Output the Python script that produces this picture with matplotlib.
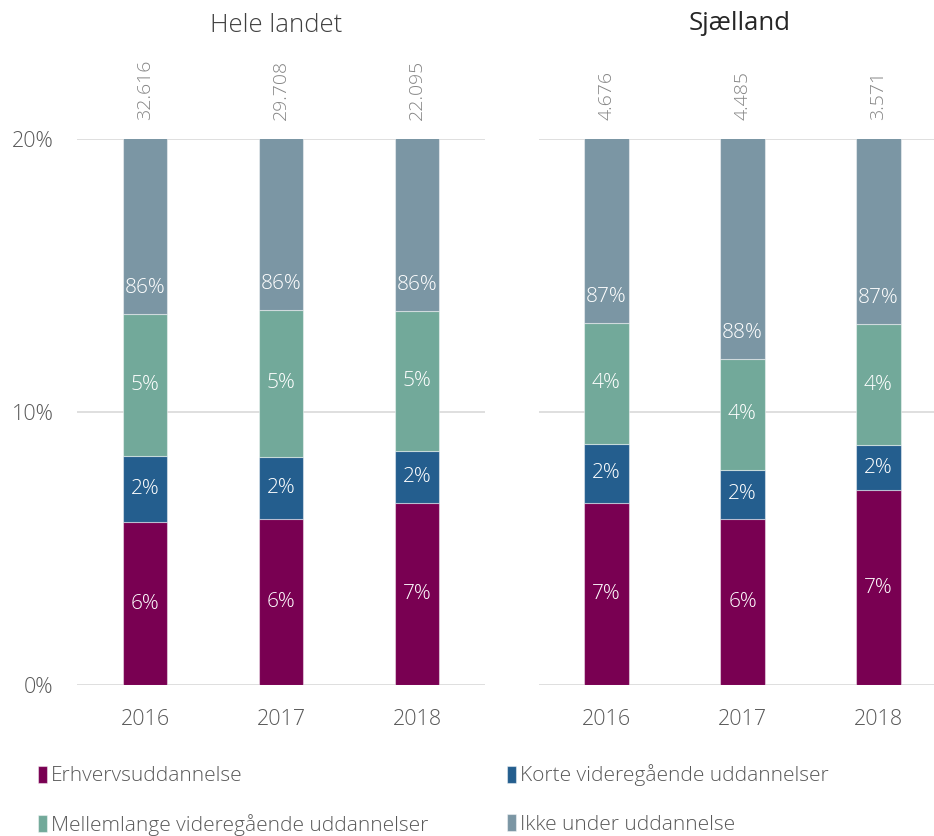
import matplotlib
matplotlib.use("Agg")
import matplotlib.pyplot as plt
import numpy as np

plt.rcParams['font.family'] = ['Open Sans', 'DejaVu Sans']
plt.rcParams['font.weight'] = 'light'

years = ["2016", "2017", "2018"]
series_names = ["Erhvervsuddannelse", "Korte videregående uddannelser",
                "Mellemlange videregående uddannelser", "Ikke under uddannelse"]
colors = ["#790052", "#245E8E", "#72A99A", "#7B96A4"]

# andele i procent, pr. region
hele_erhverv = [5.97, 6.08, 6.67]
hele_korte = [2.42, 2.27, 1.90]
hele_mellem = [5.20, 5.39, 5.13]
hele_ikke = [86.41, 86.26, 86.30]
hele_antal = ["32.616", "29.708", "22.095"]

sj_erhverv = [6.67, 6.08, 7.14]
sj_korte = [2.16, 1.80, 1.65]
sj_mellem = [4.43, 4.06, 4.43]
sj_ikke = [86.74, 88.06, 86.78]
sj_antal = ["4.676", "4.485", "3.571"]

W, H = 934, 836
fig = plt.figure(figsize=(W / 100, H / 100), dpi=100)

bottom = 1 - 685 / H
height = (685 - 139) / H
ax1 = fig.add_axes([77 / W, bottom, 408 / W, height])
ax2 = fig.add_axes([538.5 / W, bottom, (W - 538.5) / W, height])


def draw_panel(ax, parts, antal, xmax):
    x = np.arange(len(years))
    base = np.zeros(len(years))
    bars = []
    for i, (vals, col) in enumerate(zip(parts, colors)):
        vals = np.array(vals)
        b = ax.bar(x, vals, bottom=base, width=0.33, color=col,
                   edgecolor=(1, 1, 1, 0.45), linewidth=0.8, zorder=3,
                   label=series_names[i])
        bars.append(b)
        for xi, v, b0 in zip(x, vals, base):
            # sidste serie er skåret af ved 20 %, label lige over kanten
            yl = b0 + 0.95 if i == len(parts) - 1 else b0 + v / 2
            ax.text(xi, yl, f"{round(v):.0f}%", ha="center", va="center",
                    color="white", fontsize=15, zorder=4, clip_on=True)
        base = base + vals
    for xi, t in zip(x, antal):
        ax.annotate(t, xy=(xi, 20), xytext=(0, 14), textcoords="offset points",
                    rotation=90, ha="center", va="bottom", color="#858585",
                    fontsize=14, annotation_clip=False)
    ax.set_ylim(0, 20)
    ax.set_xlim(-0.5, xmax)
    ax.set_yticks([0, 10, 20])
    ax.yaxis.grid(True, color="#D9D9D9", linewidth=1.2, zorder=0)
    ax.set_axisbelow(True)
    for s in ax.spines.values():
        s.set_visible(False)
    ax.set_xticks(x)
    ax.set_xticklabels(years)
    ax.tick_params(axis="x", length=0, pad=17, labelsize=15.5, labelcolor="#595959")
    ax.tick_params(axis="y", length=0, pad=17, labelsize=15.5, labelcolor="#595959")
    return bars


bars = draw_panel(ax1, [hele_erhverv, hele_korte, hele_mellem, hele_ikke],
                  hele_antal, 2.5)
ax1.set_yticklabels(["0%", "10%", "20%"])
draw_panel(ax2, [sj_erhverv, sj_korte, sj_mellem, sj_ikke], sj_antal,
           2.5 - 12.5 / 136)
ax2.set_yticklabels([])

fig.text(276 / W, 1 - 25 / H, "Hele landet", ha="center", va="center",
         fontsize=18.5, color="#404040")
fig.text(740 / W, 1 - 23 / H, "Sjælland", ha="center", va="center",
         fontsize=18.5, color="#262626", fontweight="normal")

handles = [bars[0], bars[2], bars[1], bars[3]]
fig.legend(handles, [h.get_label() for h in handles], ncol=2,
           loc="upper left", bbox_to_anchor=(28 / W, 1 - 754 / H),
           frameon=False, fontsize=15, labelcolor="#595959",
           handlelength=0.4, handleheight=0.9, handletextpad=0.2,
           columnspacing=3.8, labelspacing=1.32, borderpad=0)

fig.savefig("out.png", dpi=100)
